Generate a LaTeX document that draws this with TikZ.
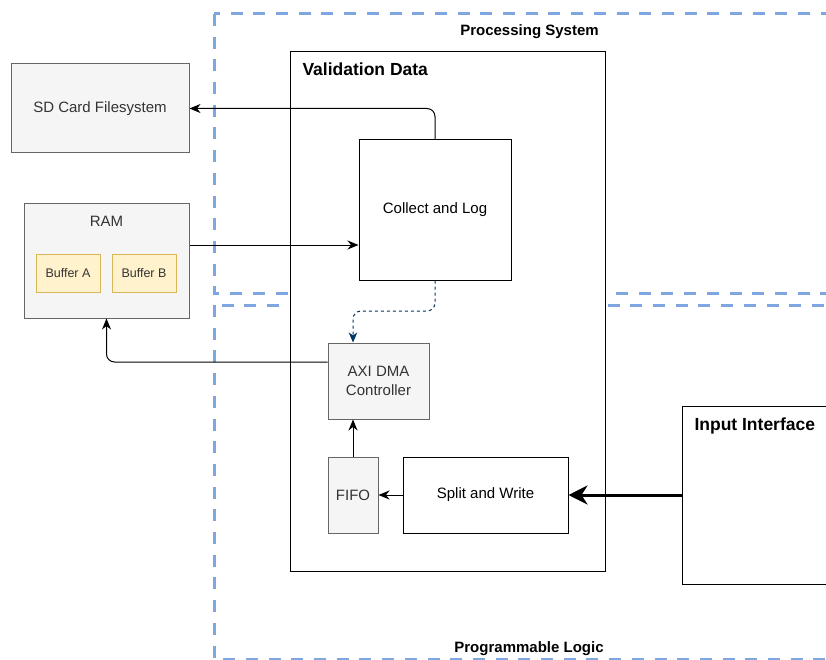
\documentclass[tikz,border=0pt]{standalone}
\usepackage{fontspec}
\setmainfont{Liberation Sans}
\usetikzlibrary{arrows.meta}
\definecolor{regionblue}{HTML}{7EA6E0}
\definecolor{grayfill}{HTML}{F5F5F5}
\definecolor{graydraw}{HTML}{666666}
\definecolor{graytext}{HTML}{333333}
\definecolor{buffill}{HTML}{FFF2CC}
\definecolor{bufdraw}{HTML}{D6B656}
\definecolor{dmablue}{HTML}{003366}
\newcommand\fsz[2]{\fontsize{#1}{#2}\selectfont}
\begin{document}
\begin{tikzpicture}[x=1pt,y=-1pt,line width=1pt,
  region/.style={draw=regionblue,line width=3pt,dash pattern=on 12pt off 10.7pt},
  graybox/.style={draw=graydraw,fill=grayfill,text=graytext,font=\fsz{15}{19},align=center,inner sep=0pt},
  whitebox/.style={draw=black,fill=white,font=\fsz{15}{19},align=center,inner sep=0pt},
  bufbox/.style={draw=bufdraw,fill=buffill,text=graytext,font=\fsz{12.5}{15},inner sep=0pt,minimum width=64pt,minimum height=38pt},
  boldlbl/.style={font=\bfseries\fsz{17.5}{21},inner sep=0pt,anchor=base west},
  regionlbl/.style={font=\bfseries\fsz{15}{18},inner sep=0pt,anchor=base},
  arr/.style={-{Stealth[length=11pt,width=9pt,inset=3.5pt]},rounded corners=8pt},
  dasharr/.style={draw=dmablue,dash pattern=on 3pt off 3pt,-{Stealth[length=10pt,width=8.5pt,inset=3pt]},rounded corners=8pt},
  thickarr/.style={line width=3pt,-{Stealth[length=19pt,width=19pt,inset=6pt]}}
]
\useasboundingbox (0,0) rectangle (826,660);
\clip (0,0) rectangle (826,660);

% regions
\draw[region] (214,14) rectangle (880,293);
\draw[region] (214,305) rectangle (880,659);
\node[regionlbl] (pslbl) at (529.5,36) {Processing System};
\node[regionlbl] (pllbl) at (529,652) {Programmable Logic};

% outer processor-side blocks
\node[graybox,minimum width=178pt,minimum height=89pt] (sd) at (100,108.5) {SD Card Filesystem};
\node[graybox,minimum width=165pt,minimum height=114pt] (ram) at (106.5,261) {};
\node[font=\fsz{15}{18},text=graytext,inner sep=0pt,anchor=base] (ramlbl) at (106.5,226) {RAM};
\node[bufbox] (bufa) at (68,273) {Buffer A};
\node[bufbox] (bufb) at (144,273) {Buffer B};

% validation data container
\node[draw=black,fill=white,minimum width=315pt,minimum height=519pt,inner sep=0pt] (vd) at (447.5,311.5) {};
\node[boldlbl] (vdlbl) at (302,75.5) {Validation Data};

\node[whitebox,minimum width=152pt,minimum height=140pt] (cl) at (435,210) {Collect and Log};
\node[graybox,minimum width=101pt,minimum height=76pt] (axi) at (378.5,381) {AXI DMA\\Controller};
\node[graybox,minimum width=50pt,minimum height=76pt] (fifo) at (353,495) {FIFO};
\node[whitebox,minimum width=165pt,minimum height=76pt] (sw) at (485.5,495) {Split and Write};

% input interface
\node[draw=black,fill=white,minimum width=218pt,minimum height=178pt,inner sep=0pt] (inp) at (791,495) {};
\node[boldlbl] (inplbl) at (694,430.2) {Input Interface};

% connectors
\draw[arr] (cl.north) |- (sd.east);
\draw[arr] (ram.east |- 0,245) -- (cl.west |- 0,245);
\draw[dasharr] (cl.south) -- (cl.south |- 0,311) -| (fifo.north |- axi.north);
\draw[arr] (axi.west |- 0,362) -| (ram.south);
\draw[arr] (fifo.north) -- (fifo.north |- axi.south);
\draw[arr] (sw.west) -- (fifo.east);
\draw[thickarr] (inp.west) -- (sw.east);
\end{tikzpicture}
\end{document}
